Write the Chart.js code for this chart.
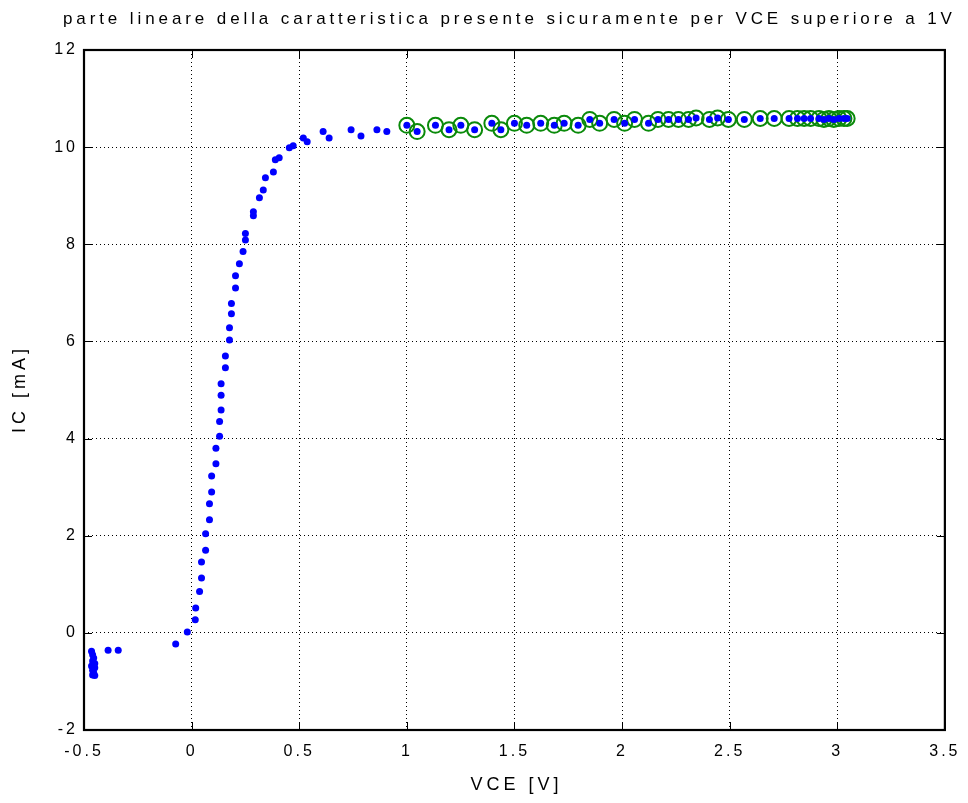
<!DOCTYPE html>
<html>
<head>
<meta charset="utf-8">
<title>Caratteristica di uscita</title>
<script src="https://cdn.jsdelivr.net/npm/chart.js@4/dist/chart.umd.min.js"></script>
<style>
  html, body { margin: 0; padding: 0; background: #ffffff; }
  canvas { display: block; }
</style>
</head>
<body>
<canvas id="chart" width="968" height="803"></canvas>
<script>
// Misure: tensione collettore-emettitore [V] e corrente di collettore [mA]
const vce = [
  -0.465, -0.460, -0.455, -0.460, -0.450, -0.465, -0.450, -0.460, -0.455, -0.460, -0.450,
  -0.388, -0.341, -0.074, -0.020, 0.017, 0.019,
  0.037, 0.046, 0.046, 0.065, 0.065, 0.083, 0.083, 0.093, 0.093, 0.113, 0.113,
  0.130, 0.130, 0.137, 0.137, 0.137, 0.157, 0.157, 0.176, 0.176, 0.185, 0.185,
  0.204, 0.204, 0.222, 0.239, 0.250, 0.250, 0.287, 0.287, 0.315, 0.333, 0.343,
  0.380, 0.389, 0.407, 0.454, 0.472, 0.519, 0.537, 0.611, 0.639, 0.741, 0.787,
  0.861, 0.907,
  1.000, 1.048, 1.133, 1.196, 1.251, 1.315, 1.395, 1.437, 1.500, 1.557, 1.622,
  1.685, 1.731, 1.796, 1.850, 1.896, 1.963, 2.012, 2.058, 2.123, 2.167, 2.216,
  2.262, 2.309, 2.344, 2.406, 2.444, 2.494, 2.568, 2.642, 2.707, 2.776, 2.815,
  2.846, 2.876, 2.915, 2.938, 2.961, 2.984, 3.008, 3.031, 3.046
];
const ic = [
  -0.38, -0.45, -0.52, -0.58, -0.63, -0.68, -0.72, -0.77, -0.82, -0.87, -0.88,
  -0.36, -0.36, -0.23, 0.02, 0.27, 0.51,
  0.85, 1.13, 1.46, 1.70, 2.04, 2.33, 2.66, 2.90, 3.23, 3.48, 3.80,
  4.05, 4.35, 4.59, 4.89, 5.13, 5.46, 5.70, 6.03, 6.28, 6.57, 6.78,
  7.10, 7.35, 7.60, 7.85, 8.09, 8.22, 8.59, 8.67, 8.96, 9.12, 9.37,
  9.49, 9.74, 9.78, 9.99, 10.03, 10.19, 10.11, 10.32, 10.19, 10.36, 10.23,
  10.36, 10.32,
  10.45, 10.32, 10.45, 10.36, 10.45, 10.36, 10.49, 10.36, 10.49, 10.45, 10.49,
  10.45, 10.49, 10.45, 10.57, 10.49, 10.57, 10.49, 10.57, 10.49, 10.57, 10.57,
  10.57, 10.57, 10.60, 10.57, 10.60, 10.57, 10.57, 10.59, 10.59, 10.59, 10.59,
  10.59, 10.59, 10.59, 10.57, 10.59, 10.57, 10.59, 10.59, 10.59
];
// Soglia oltre la quale la caratteristica è considerata lineare [V]
const sogliaLineare = 1;

const xTicks = { min: -0.5, max: 3.5, step: 0.5 };
const yTicks = { min: -2, max: 12, step: 2 };

const titolo = 'parte lineare della caratteristica presente sicuramente per VCE superiore a 1V';
const titoloX = 'VCE [V]';
const titoloY = 'IC [mA]';

const tutti = vce.map((v, i) => ({ x: v, y: ic[i] }));
const lineari = tutti.filter(p => p.x >= sogliaLineare);

const FONT = "'Liberation Sans', Arial, Helvetica, sans-serif";

// Spaziatura dei caratteri come nelle figure esportate da MATLAB
const spaziatura = {
  id: 'spaziatura',
  beforeDraw(chart) { chart.ctx.letterSpacing = '3px'; }
};

function testoSpaziato(ctx, testo, x, y, size, spacing, angolo) {
  ctx.save();
  ctx.letterSpacing = spacing + 'px';
  ctx.font = size + 'px ' + FONT;
  ctx.fillStyle = '#000';
  ctx.textAlign = 'center';
  ctx.textBaseline = 'middle';
  ctx.translate(x, y);
  if (angolo) ctx.rotate(angolo);
  // lo spazio finale aggiunto dopo l'ultimo carattere viene compensato
  ctx.fillText(testo, spacing / 2, 0);
  ctx.restore();
}

// Titoli, cornice e tacche interne sui quattro lati
const cornice = {
  id: 'cornice',
  afterDraw(chart) {
    const { ctx, chartArea: a, scales } = chart;
    const cx = (a.left + a.right) / 2;
    testoSpaziato(ctx, titolo, cx - 7, 19, 17, 3.9, 0);
    testoSpaziato(ctx, titoloX, cx, 785, 18, 4, 0);
    testoSpaziato(ctx, titoloY, 20, (a.top + a.bottom) / 2 + 1, 18, 4, -Math.PI / 2);

    ctx.save();
    ctx.strokeStyle = '#000';
    ctx.lineWidth = 1;
    ctx.setLineDash([]);
    const L = 8;
    ctx.beginPath();
    scales.x.ticks.forEach(t => {
      const px = Math.round(scales.x.getPixelForValue(t.value)) + 0.5;
      ctx.moveTo(px, a.top); ctx.lineTo(px, a.top + L);
      ctx.moveTo(px, a.bottom); ctx.lineTo(px, a.bottom - L);
    });
    scales.y.ticks.forEach(t => {
      const py = Math.round(scales.y.getPixelForValue(t.value)) + 0.5;
      ctx.moveTo(a.left, py); ctx.lineTo(a.left + L, py);
      ctx.moveTo(a.right, py); ctx.lineTo(a.right - L, py);
    });
    ctx.stroke();

    ctx.lineWidth = 2.2;
    ctx.strokeRect(a.left, a.top, a.right - a.left, a.bottom - a.top);
    ctx.restore();
  }
};

const etichetta = v => String(Math.round(v * 10) / 10);

new Chart(document.getElementById('chart'), {
  type: 'scatter',
  data: {
    datasets: [
      {
        label: 'misure',
        data: tutti,
        pointRadius: 3.5,
        pointHoverRadius: 3.5,
        pointBorderWidth: 0,
        pointBackgroundColor: '#0000ff',
        pointBorderColor: '#0000ff'
      },
      {
        label: 'tratto lineare',
        data: lineari,
        pointRadius: 7.5,
        pointHoverRadius: 7.5,
        pointBorderWidth: 2,
        pointBackgroundColor: 'rgba(0,0,0,0)',
        pointBorderColor: '#0a8a0a'
      }
    ]
  },
  options: {
    responsive: false,
    animation: false,
    events: [],
    layout: { padding: { top: 50, right: 20, bottom: 0, left: 0 } },
    plugins: {
      legend: { display: false },
      title: { display: false },
      tooltip: { enabled: false }
    },
    scales: {
      x: {
        type: 'linear',
        min: xTicks.min,
        max: xTicks.max,
        afterFit(s) { s.height = 73; },
        ticks: {
          stepSize: xTicks.step,
          color: '#000',
          padding: 12,
          maxRotation: 0,
          callback: etichetta,
          font: { family: FONT, size: 16 }
        },
        grid: { color: '#000', lineWidth: 1, drawTicks: false },
        border: { display: false, dash: [1, 3] },
        title: { display: false, text: titoloX }
      },
      y: {
        type: 'linear',
        min: yTicks.min,
        max: yTicks.max,
        afterFit(s) { s.width = 84; },
        ticks: {
          stepSize: yTicks.step,
          color: '#000',
          padding: 6,
          callback: etichetta,
          font: { family: FONT, size: 16 }
        },
        grid: { color: '#000', lineWidth: 1, drawTicks: false },
        border: { display: false, dash: [1, 3] },
        title: { display: false, text: titoloY }
      }
    }
  },
  plugins: [spaziatura, cornice]
});
</script>
</body>
</html>
